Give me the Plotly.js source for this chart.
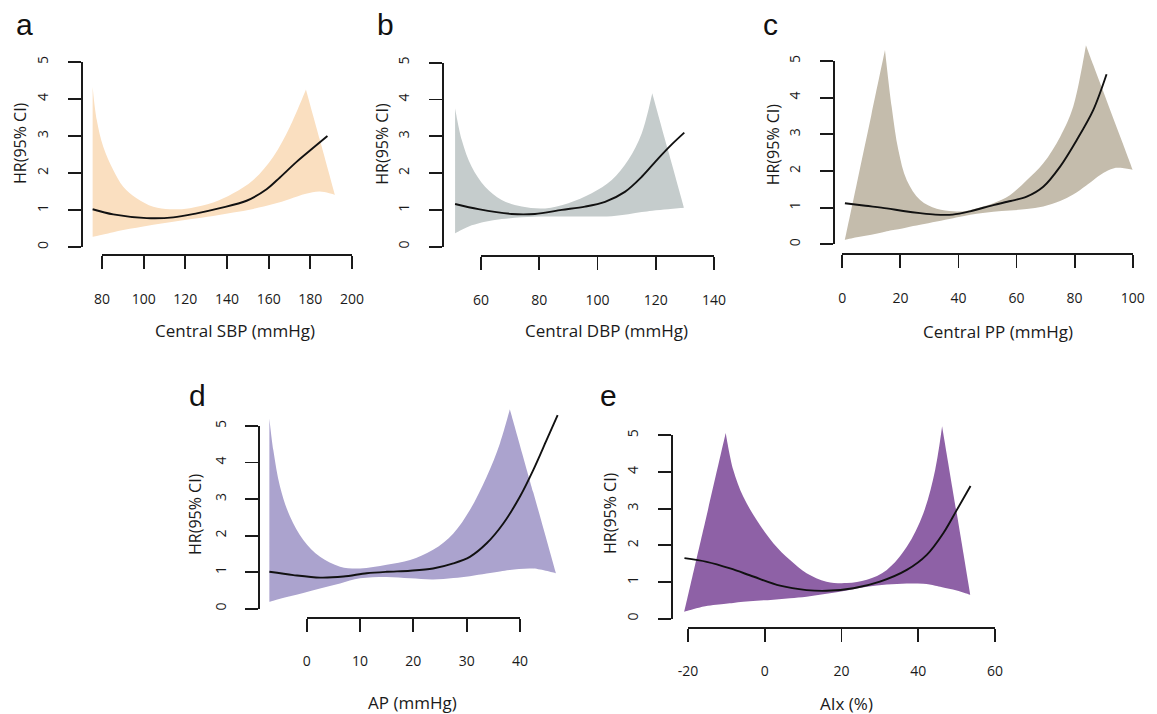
<!DOCTYPE html>
<html>
<head>
<meta charset="utf-8">
<script src="https://cdn.plot.ly/plotly-3.0.1.min.js"></script>
<style>html,body{margin:0;padding:0;background:#fff;}#chart{width:1157px;height:714px;}</style>
</head>
<body>
<div id="chart"></div>
<script>
// ---------------- data ----------------
// Panel a: Central SBP
const bandX_a = [75.5, 77.5, 80.6, 85.4, 90.2, 96.6, 104.6, 112.6, 122.2, 133.4, 143, 152.6, 162.2, 170.2, 177.9, 184.6, 191.8];
const upper_a = [4.33, 3.43, 2.71, 2.08, 1.63, 1.32, 1.09, 1.02, 1.05, 1.2, 1.45, 1.81, 2.44, 3.25, 4.26, 2.89, 1.41];
const lower_a = [0.28, 0.3, 0.34, 0.4, 0.46, 0.52, 0.6, 0.67, 0.75, 0.84, 0.93, 1.03, 1.16, 1.3, 1.44, 1.5, 1.41];
const lineX_a = [75.5, 85.4, 101.5, 114.2, 125.5, 136.6, 149.4, 159, 165.4, 173.4, 181.4, 188.2];
const lineY_a = [1.02, 0.88, 0.78, 0.8, 0.91, 1.05, 1.25, 1.56, 1.88, 2.3, 2.68, 3.0];
const ticks_a = [80, 100, 120, 140, 160, 180, 200];

// Panel b: Central DBP
const bandX_b = [51.1, 53.4, 56.8, 61.4, 67.1, 74, 82, 90, 98, 104.9, 110.6, 115.2, 118.8, 124.3, 129.7];
const upper_b = [3.76, 2.9, 2.17, 1.63, 1.27, 1.09, 1.04, 1.18, 1.45, 1.81, 2.36, 3.08, 4.17, 2.6, 1.06];
const lower_b = [0.36, 0.46, 0.58, 0.68, 0.75, 0.8, 0.82, 0.82, 0.82, 0.83, 0.88, 0.94, 0.98, 1.02, 1.06];
const lineX_b = [51.1, 59.1, 70.5, 78.5, 87.7, 95.7, 102.6, 109.4, 115.2, 120.9, 125.5, 129.8];
const lineY_b = [1.16, 1.02, 0.89, 0.89, 1.0, 1.09, 1.22, 1.49, 1.9, 2.4, 2.78, 3.1];
const ticks_b = [60, 80, 100, 120, 140];

// Panel c: Central PP
const bandX_c = [0.9, 5, 10, 14.7, 17, 19.3, 22.2, 26.8, 32.5, 38.2, 42, 46.3, 52, 57.7, 63.5, 69.2, 75, 79.5, 83.9, 86.4, 90, 93.3, 96.5, 100];
const upper_c = [0.12, 1.66, 3.53, 5.3, 3.75, 2.57, 1.75, 1.21, 0.97, 0.9, 0.9, 0.98, 1.12, 1.34, 1.75, 2.21, 2.93, 3.75, 5.43, 4.9, 4.14, 3.44, 2.77, 2.03];
const lower_c = [0.12, 0.19, 0.26, 0.34, 0.38, 0.41, 0.46, 0.53, 0.62, 0.71, 0.77, 0.83, 0.89, 0.92, 0.96, 1.03, 1.18, 1.36, 1.6, 1.75, 1.95, 2.07, 2.08, 2.03];
const lineX_c = [0.9, 8, 15.3, 21, 26.8, 32, 38, 44, 52, 58, 63.5, 69.2, 75, 80.7, 86.4, 91];
const lineY_c = [1.12, 1.05, 0.98, 0.91, 0.85, 0.81, 0.81, 0.9, 1.07, 1.18, 1.3, 1.57, 2.12, 2.84, 3.66, 4.64];
const ticks_c = [0, 20, 40, 60, 80, 100];

// Panel d: AP
const bandX_d = [-7, -6.26, -5, -3.13, -0.64, 2.5, 6.25, 10, 15, 19.4, 23.7, 27.5, 30.6, 33.75, 36.25, 38.1, 42.5, 46.75];
const upper_d = [5.21, 4.34, 3.34, 2.52, 1.88, 1.42, 1.15, 1.1, 1.2, 1.33, 1.61, 2.06, 2.7, 3.61, 4.53, 5.46, 3.18, 0.97];
const lower_d = [0.19, 0.22, 0.27, 0.34, 0.43, 0.55, 0.69, 0.83, 0.87, 0.83, 0.8, 0.84, 0.89, 0.96, 1.02, 1.06, 1.1, 0.97];
const lineX_d = [-7, -2.5, 2.5, 6.9, 11.25, 15, 19.4, 23.7, 27.5, 30.6, 33.75, 36.9, 40, 42.5, 45, 47.06];
const lineY_d = [1.01, 0.92, 0.85, 0.88, 0.97, 1.01, 1.04, 1.1, 1.24, 1.42, 1.79, 2.34, 3.07, 3.8, 4.62, 5.3];
const ticks_d = [0, 10, 20, 30, 40];

// Panel e: AIx
const bandX_e = [-20.9, -15.5, -10.15, -8.2, -5.6, -2.1, 2.24, 6.6, 10.9, 16.1, 21.4, 26.6, 31.8, 37, 41.3, 44.4, 46.2, 50, 53.6];
const upper_e = [0.19, 2.64, 5.06, 4.06, 3.33, 2.69, 2.06, 1.6, 1.24, 1.01, 0.97, 1.06, 1.33, 1.96, 2.87, 4.06, 5.25, 2.89, 0.65];
const lower_e = [0.19, 0.34, 0.41, 0.43, 0.46, 0.49, 0.52, 0.56, 0.6, 0.68, 0.77, 0.87, 0.93, 0.96, 0.95, 0.9, 0.86, 0.77, 0.65];
const lineX_e = [-20.9, -15.1, -9, -3, 4, 10.9, 16.1, 23.1, 30, 37, 42.2, 46.5, 50, 53.6];
const lineY_e = [1.65, 1.55, 1.37, 1.15, 0.9, 0.78, 0.76, 0.83, 1.01, 1.33, 1.74, 2.33, 2.96, 3.62];
const ticks_e = [-20, 0, 20, 40, 60];

const yTicks = [0, 1, 2, 3, 4, 5];
const letters = ['a', 'b', 'c', 'd', 'e'];
const xTitles = ['Central SBP (mmHg)', 'Central DBP (mmHg)', 'Central PP (mmHg)', 'AP (mmHg)', 'AIx (%)'];
const yTitle = 'HR(95% CI)';
const bandColors = ['rgb(250,223,192)', 'rgb(197,204,204)', 'rgb(196,188,172)', 'rgb(171,163,206)', 'rgb(142,97,166)'];

// ---------------- layout geometry (pixels) ----------------
const W = 1157, H = 714;
const fx = p => p / W;
const fy = p => 1 - p / H;

const panels = [
  {bx: bandX_a, up: upper_a, lo: lower_a, lx: lineX_a, ly: lineY_a, ticks: ticks_a,
   yLine: 81, y0: 247, y5: 62, xLine: 254, t0: 102, t1: 352, right: 362,
   letter: [24, 43], xt: [234.7, 330], yt: [20, 143]},
  {bx: bandX_b, up: upper_b, lo: lower_b, lx: lineX_b, ly: lineY_b, ticks: ticks_b,
   yLine: 441.7, y0: 246.7, y5: 62.7, xLine: 255, t0: 481, t1: 714, right: 722,
   letter: [385, 43], xt: [606.7, 330], yt: [381.7, 144]},
  {bx: bandX_c, up: upper_c, lo: lower_c, lx: lineX_c, ly: lineY_c, ticks: ticks_c,
   yLine: 832.7, y0: 244.3, y5: 61, xLine: 253.3, t0: 842.3, t1: 1132.7, right: 1150,
   letter: [770.5, 43], xt: [997.5, 331], yt: [773.3, 144]},
  {bx: bandX_d, up: upper_d, lo: lower_d, lx: lineX_d, ly: lineY_d, ticks: ticks_d,
   yLine: 258.3, y0: 608.7, y5: 426, xLine: 616.7, t0: 306.7, t1: 520, right: 572,
   letter: [197.5, 414], xt: [412.5, 702], yt: [195, 514]},
  {bx: bandX_e, up: upper_e, lo: lower_e, lx: lineX_e, ly: lineY_e, ticks: ticks_e,
   yLine: 671, y0: 618.7, y5: 435.3, xLine: 626.7, t0: 687.9, t1: 995.1, right: 1005,
   letter: [608.5, 414], xt: [846.7, 703], yt: [610, 513]}
];

// duplicate corner points (ends and peaks) so the spline keeps them sharp
function cornerPath(xs, ys, markPeaks) {
  const X = [], Y = [];
  const last = xs.length - 1;
  xs.forEach((x, k) => {
    X.push(x); Y.push(ys[k]);
    const peak = markPeaks && k > 0 && k < last && ys[k] > ys[k - 1] && ys[k] > ys[k + 1];
    if (k === 0 || k === last || peak) { X.push(x); Y.push(ys[k]); }
  });
  return [X, Y];
}

const FONT = 'Open Sans, Noto Sans, sans-serif';
const AXCOL = '#1a1a1a';
const traces = [];
const layout = {
  width: W, height: H,
  margin: {l: 0, r: 0, t: 0, b: 0, pad: 0},
  paper_bgcolor: '#ffffff', plot_bgcolor: 'rgba(0,0,0,0)',
  showlegend: false,
  font: {family: FONT, color: '#1a1a1a'},
  annotations: []
};

panels.forEach((p, i) => {
  const n = i + 1;        // data axes
  const m = i + 6;        // visible (decorative) axes
  const v0 = p.ticks[0], v1 = p.ticks[p.ticks.length - 1];
  const xPerPx = (v1 - v0) / (p.t1 - p.t0);
  const xv = px => v0 + (px - p.t0) * xPerPx;
  const yPerPx = 5 / (p.y0 - p.y5);
  const yv = py => (p.y0 - py) * yPerPx;

  const dLeft = p.yLine + 3, dRight = p.right;
  const dTop = p.y5 - 30, dBottom = p.y0 + 6;

  layout['xaxis' + n] = {
    domain: [fx(dLeft), fx(dRight)], range: [xv(dLeft), xv(dRight)],
    anchor: 'y' + n, visible: false, fixedrange: true
  };
  layout['yaxis' + n] = {
    domain: [fy(dBottom), fy(dTop)], range: [yv(dBottom), yv(dTop)],
    anchor: 'x' + n, visible: false, fixedrange: true
  };
  layout['xaxis' + m] = {
    domain: [fx(p.t0), fx(p.t1)], range: [v0, v1],
    anchor: 'free', position: fy(p.xLine), side: 'bottom',
    showline: true, linecolor: AXCOL, linewidth: 1.8,
    ticks: 'outside', ticklen: 13, tickwidth: 1.8, tickcolor: AXCOL,
    tickmode: 'array', tickvals: p.ticks, ticktext: p.ticks.map(String),
    tickfont: {family: FONT, size: 14, color: '#1a1a1a'},
    ticklabelstandoff: 18,
    showgrid: false, zeroline: false, fixedrange: true
  };
  layout['yaxis' + m] = {
    domain: [fy(p.y0), fy(p.y5)], range: [0, 5],
    anchor: 'free', position: fx(p.yLine), side: 'left',
    showline: true, linecolor: AXCOL, linewidth: 1.8,
    ticks: 'outside', ticklen: 13, tickwidth: 1.8, tickcolor: AXCOL,
    tickmode: 'array', tickvals: yTicks, ticktext: yTicks.map(String),
    tickangle: -90,
    tickfont: {family: FONT, size: 14, color: '#1a1a1a'},
    ticklabelstandoff: 14,
    showgrid: false, zeroline: false, fixedrange: true
  };

  // confidence band (upper edge left->right, lower edge right->left)
  const [ux, uy] = cornerPath(p.bx, p.up, true);
  const [lx, ly] = cornerPath(p.bx, p.lo, false);
  traces.push({
    type: 'scatter', mode: 'lines',
    x: ux.concat(lx.slice().reverse()),
    y: uy.concat(ly.slice().reverse()),
    fill: 'toself', fillcolor: bandColors[i],
    line: {width: 0, color: bandColors[i], shape: 'spline', smoothing: 1, simplify: false},
    xaxis: 'x' + n, yaxis: 'y' + n, hoverinfo: 'skip'
  });
  // HR curve
  traces.push({
    type: 'scatter', mode: 'lines',
    x: p.lx, y: p.ly,
    line: {color: '#111111', width: 1.9, shape: 'spline', smoothing: 0.9},
    xaxis: 'x' + n, yaxis: 'y' + n, hoverinfo: 'skip'
  });
  // empty trace so the decorative axes get their own subplot
  traces.push({
    type: 'scatter', mode: 'markers', x: [], y: [],
    xaxis: 'x' + m, yaxis: 'y' + m, hoverinfo: 'skip'
  });

  layout.annotations.push({
    text: letters[i], xref: 'paper', yref: 'paper',
    x: fx(p.letter[0]), y: fy(p.letter[1]), xanchor: 'center', yanchor: 'bottom',
    showarrow: false, font: {family: 'Liberation Sans, Arial, sans-serif', size: 30, color: '#111'}
  });
  layout.annotations.push({
    text: xTitles[i], xref: 'paper', yref: 'paper',
    x: fx(p.xt[0]), y: fy(p.xt[1]), xanchor: 'center', yanchor: 'middle',
    showarrow: false, font: {family: FONT, size: 17, color: '#1a1a1a'}
  });
  layout.annotations.push({
    text: yTitle, xref: 'paper', yref: 'paper', textangle: -90,
    x: fx(p.yt[0]), y: fy(p.yt[1]), xanchor: 'center', yanchor: 'middle',
    showarrow: false, font: {family: FONT, size: 16, color: '#1a1a1a'}
  });
});

Plotly.newPlot('chart', traces, layout, {staticPlot: true, displayModeBar: false});
</script>
</body>
</html>
